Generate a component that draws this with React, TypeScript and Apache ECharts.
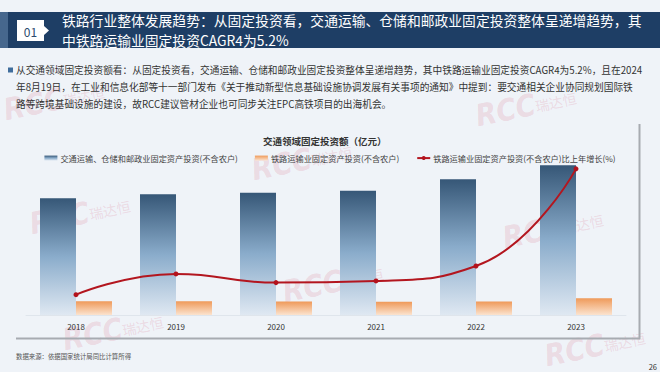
import React, { useEffect, useRef } from 'react';
import * as echarts from 'echarts';

const years = ['2018', '2019', '2020', '2021', '2022', '2023'];
// 交通运输、仓储和邮政业固定资产投资(不含农户), 亿元 (estimated)
const transportInvest = [68400, 70700, 71700, 72800, 79500, 87700];
// 铁路运输业固定资产投资(不含农户), 亿元 (estimated)
const railInvest = [8028, 8020, 7844, 7703, 7841, 9817];
// 铁路运输业固定资产投资比上年增长 (%)
const railGrowth = [-5.1, -0.1, -2.2, -1.8, 1.8, 25.2];

const seriesNames = [
  '交通运输、仓储和邮政业固定资产投资(不含农户)',
  '铁路运输业固定资产投资(不含农户)',
  '铁路运输业固定资产投资(不含农户)比上年增长(%)',
];

const headerNo = '01';
const headerLines = [
  '铁路行业整体发展趋势：从固定投资看，交通运输、仓储和邮政业固定投资整体呈递增趋势，其',
  '中铁路运输业固定投资CAGR4为5.2%',
];
const bodyLines = [
  '从交通领域固定投资额看：从固定投资看，交通运输、仓储和邮政业固定投资整体呈递增趋势，其中铁路运输业固定投资CAGR4为5.2%，且在2024',
  '年8月19日，在工业和信息化部等十一部门发布《关于推动新型信息基础设施协调发展有关事项的通知》中提到：要交通相关企业协同规划国际铁',
  '路等跨境基础设施的建设，故RCC建议管材企业也可同步关注EPC高铁项目的出海机会。',
];
const chartTitle = '交通领域固定投资额（亿元）';
const sourceNote = '数据来源：依据国家统计局同比计算所得';
const pageNo = '26';

const watermarkSpots: [number, number][] = [
  [4, 110],
  [476, 116],
  [252, 170],
  [30, 224],
  [283, 292],
  [503, 238],
  [63, 340],
  [545, 356],
];

const FONT = '"Noto Sans CJK SC", "Noto Sans", sans-serif';

export default function App() {
  const ref = useRef<HTMLDivElement>(null);

  useEffect(() => {
    if (!ref.current) return;
    const chart = echarts.init(ref.current, null, { renderer: 'svg' });

    const watermarks = watermarkSpots.map(([x, y]) => ({
      type: 'group',
      x,
      y,
      rotation: 0.2,
      silent: true,
      z: 100,
      children: [
        {
          type: 'text',
          style: {
            text: 'RCC',
            x: 0,
            y: 0,
            fill: 'rgba(214, 96, 122, 0.18)',
            font: 'italic bold 30px "Liberation Sans Narrow", "DejaVu Sans Condensed", sans-serif',
            verticalAlign: 'middle',
          },
        },
        {
          type: 'text',
          style: {
            text: '瑞达恒',
            x: 60,
            y: 2,
            fill: 'rgba(214, 96, 122, 0.18)',
            font: `14px ${FONT}`,
            verticalAlign: 'middle',
          },
        },
      ],
    }));

    const graphics: any[] = [
      // header band
      { type: 'rect', shape: { x: 0, y: 12, width: 8, height: 36 }, style: { fill: '#46678d' }, z: 0 },
      { type: 'rect', shape: { x: 8, y: 12, width: 652, height: 36 }, style: { fill: '#1e3e65' }, z: 0 },
      { type: 'rect', shape: { x: 17, y: 20, width: 27, height: 21 }, style: { fill: '#ffffff' }, z: 1 },
      { type: 'polygon', shape: { points: [[44, 26], [49, 30.5], [44, 35]] }, style: { fill: '#ffffff' }, z: 1 },
      {
        type: 'text',
        style: { text: headerNo, x: 30.5, y: 31, fill: '#2c4a6e', font: `12px ${FONT}`, align: 'center', verticalAlign: 'middle' },
        z: 2,
      },
      ...headerLines.map((t, i) => ({
        type: 'text',
        style: { text: t, x: 62, y: 20 + i * 20.3, fill: '#ffffff', font: `13.8px ${FONT}`, verticalAlign: 'middle' },
        z: 2,
      })),
      // bullet paragraph
      { type: 'rect', shape: { x: 8, y: 67.5, width: 5, height: 5 }, style: { fill: '#3f6d9c' }, z: 1 },
      {
        type: 'text',
        style: {
          text: bodyLines.join('\n'),
          x: 16,
          y: 61.5,
          fill: '#333333',
          font: `9.7px ${FONT}`,
          verticalAlign: 'top',
          lineHeight: 17,
        },
        z: 2,
      },
      // chart panel edges
      { type: 'line', shape: { x1: 639.5, y1: 124, x2: 639.5, y2: 339 }, style: { stroke: '#a7abb1', lineWidth: 2 }, z: 1 },
      { type: 'line', shape: { x1: 16, y1: 338.5, x2: 640, y2: 338.5 }, style: { stroke: '#a7abb1', lineWidth: 2 }, z: 1 },
      // footer
      {
        type: 'text',
        style: { text: sourceNote, x: 16, y: 356, fill: '#555555', font: `6.4px ${FONT}`, verticalAlign: 'middle' },
        z: 2,
      },
      {
        type: 'text',
        style: { text: pageNo, x: 657, y: 366, fill: '#333333', font: `7.5px ${FONT}`, align: 'right', verticalAlign: 'middle' },
        z: 2,
      },
      ...watermarks,
    ];

    chart.setOption({
      animation: false,
      backgroundColor: '#eff3f8',
      textStyle: { fontFamily: FONT },
      title: {
        text: chartTitle,
        left: 263,
        top: 136,
        padding: 0,
        textStyle: { fontSize: 9.5, fontWeight: 'bold', color: '#333333', fontFamily: FONT },
      },
      legend: {
        top: 149,
        left: 'center',
        itemGap: 17,
        itemWidth: 13,
        itemHeight: 5,
        textStyle: { fontSize: 8.2, color: '#444444', fontFamily: FONT, padding: [0, 0, 0, -2] },
        data: [
          { name: seriesNames[0], icon: 'rect' },
          { name: seriesNames[1], icon: 'rect' },
          { name: seriesNames[2] },
        ],
      },
      grid: { left: 26, right: 34, top: 161.4, bottom: 57, containLabel: false },
      xAxis: {
        type: 'category',
        data: years,
        axisLine: { lineStyle: { color: '#dfe5ec', width: 1 } },
        axisTick: { show: false },
        axisLabel: { fontSize: 8, color: '#333333', margin: 7, fontFamily: FONT },
      },
      yAxis: [
        { type: 'value', min: 0, max: 90000, show: false, splitLine: { show: false } },
        { type: 'value', min: -10, max: 27, show: false, splitLine: { show: false } },
      ],
      graphic: graphics,
      series: [
        {
          name: seriesNames[0],
          type: 'bar',
          data: transportInvest,
          barWidth: 36,
          barGap: '0%',
          itemStyle: {
            color: new echarts.graphic.LinearGradient(0, 0, 0, 1, [
              { offset: 0, color: '#365777' },
              { offset: 0.5, color: '#8aaccb' },
              { offset: 1, color: '#dfe8f2' },
            ]),
          },
        },
        {
          name: seriesNames[1],
          type: 'bar',
          data: railInvest,
          barWidth: 36,
          barGap: '0%',
          itemStyle: {
            color: new echarts.graphic.LinearGradient(0, 0, 0, 1, [
              { offset: 0, color: '#ef9a5a' },
              { offset: 1, color: '#fbe3cf' },
            ]),
          },
        },
        {
          name: seriesNames[2],
          type: 'line',
          yAxisIndex: 1,
          data: railGrowth,
          smooth: 0.5,
          symbol: 'circle',
          symbolSize: 5,
          itemStyle: { color: '#b3121c' },
          lineStyle: { color: '#b3161f', width: 2 },
          z: 5,
        },
      ],
    });

    return () => chart.dispose();
  }, []);

  return (
    <div
      ref={ref}
      style={{ position: 'absolute', left: 0, top: 0, width: 660, height: 372 }}
    />
  );
}
